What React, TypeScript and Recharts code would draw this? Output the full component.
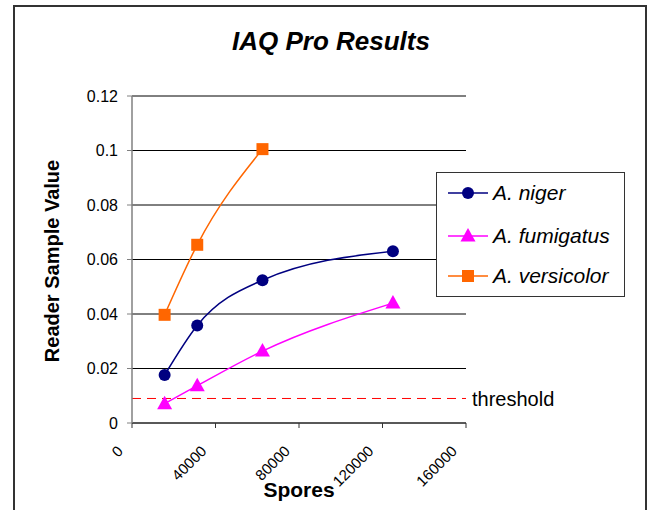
import React from "react";
import {
  LineChart,
  Line,
  XAxis,
  YAxis,
  CartesianGrid,
  ReferenceLine,
  Label,
} from "recharts";

const FONT = '"Liberation Sans", Arial, Helvetica, sans-serif';

// spore counts (doubling dilution series)
const sporeCounts = [15625, 31250, 62500, 125000];
const nigerValues = [0.0176, 0.0358, 0.0524, 0.063];
const fumigatusValues = [0.0071, 0.0137, 0.0264, 0.044];
const versicolorValues = [0.0397, 0.0654, 0.1005];
const thresholdValue = 0.009;

const xTicks = [0, 40000, 80000, 120000, 160000];
const yTicks = [0, 0.02, 0.04, 0.06, 0.08, 0.1, 0.12];

const SERIES = [
  { key: "niger", name: "A. niger", color: "#000080", shape: "circle" },
  { key: "fumigatus", name: "A. fumigatus", color: "#FF00FF", shape: "triangle" },
  { key: "versicolor", name: "A. versicolor", color: "#FF6600", shape: "square" },
];

const rows = sporeCounts.map((x, i) => ({
  x,
  niger: nigerValues[i],
  fumigatus: fumigatusValues[i],
  versicolor: versicolorValues[i] ?? null,
}));

function Marker({ shape, color, cx, cy }: { shape: string; color: string; cx: number; cy: number }) {
  if (shape === "circle") return <circle cx={cx} cy={cy} r={6} fill={color} />;
  if (shape === "triangle")
    return (
      <polygon
        points={`${cx},${cy - 8} ${cx - 7.5},${cy + 5.5} ${cx + 7.5},${cy + 5.5}`}
        fill={color}
      />
    );
  return <rect x={cx - 6} y={cy - 6} width={12} height={12} fill={color} />;
}

const makeDot = (shape: string, color: string) => (props: any) => {
  const { cx, cy, index } = props;
  if (cx == null || cy == null || props.value == null) return <g key={index} />;
  return (
    <g key={index}>
      <Marker shape={shape} color={color} cx={cx} cy={cy} />
    </g>
  );
};

const XTick = (props: any) => {
  const { x, payload } = props;
  return (
    <text
      transform={`translate(${x - 8},452) rotate(-45)`}
      textAnchor="end"
      fontSize={15}
      fontFamily={FONT}
      fill="#000"
    >
      {payload.value}
    </text>
  );
};

function ChartLegend() {
  return (
    <div
      style={{
        position: "absolute",
        left: 436,
        top: 172,
        width: 189,
        height: 125,
        boxSizing: "border-box",
        border: "1px solid #333",
        background: "#fff",
      }}
    >
      {SERIES.map((s, i) => (
        <div
          key={s.key}
          style={{
            position: "absolute",
            left: 0,
            top: [20, 63, 103][i] - 14,
            height: 28,
            display: "flex",
            alignItems: "center",
          }}
        >
          <svg width={56} height={28} style={{ display: "block" }}>
            <line x1={11} x2={51} y1={14} y2={14} stroke={s.color} strokeWidth={1.5} />
            <Marker shape={s.shape} color={s.color} cx={31} cy={14} />
          </svg>
          <span
            style={{
              fontFamily: FONT,
              fontStyle: "italic",
              fontSize: 21,
              color: "#000",
              whiteSpace: "nowrap",
            }}
          >
            {s.name}
          </span>
        </div>
      ))}
    </div>
  );
}

export default function App() {
  return (
    <div
      style={{
        position: "absolute",
        left: 0,
        top: 0,
        width: 652,
        height: 510,
        overflow: "hidden",
        background: "#fff",
      }}
    >
      <div
        style={{
          position: "absolute",
          left: 13,
          top: 5,
          width: 634,
          height: 530,
          boxSizing: "border-box",
          border: "2px solid #333",
        }}
      />
      <div
        style={{
          position: "absolute",
          left: 0,
          top: 26,
          width: 662,
          textAlign: "center",
          fontFamily: FONT,
          fontWeight: "bold",
          fontStyle: "italic",
          fontSize: 26,
          lineHeight: "30px",
          color: "#000",
        }}
      >
        IAQ Pro Results
      </div>
      <div style={{ position: "absolute", left: 0, top: 0 }}>
        <LineChart
          width={652}
          height={510}
          data={rows}
          margin={{ top: 96, right: 186, bottom: 0, left: 0 }}
        >
          <CartesianGrid horizontal vertical={false} stroke="#000" strokeWidth={1} />
          <XAxis
            type="number"
            dataKey="x"
            domain={[0, 160000]}
            ticks={xTicks}
            interval={0}
            height={87}
            axisLine={{ stroke: "#333" }}
            tickLine={{ stroke: "#333" }}
            tickSize={5}
            tick={<XTick />}
          >
            <Label
              content={() => (
                <text
                  x={299}
                  y={497}
                  textAnchor="middle"
                  fontFamily={FONT}
                  fontWeight="bold"
                  fontSize={21}
                  fill="#000"
                >
                  Spores
                </text>
              )}
            />
          </XAxis>
          <YAxis
            type="number"
            domain={[0, 0.12]}
            ticks={yTicks}
            interval={0}
            width={132}
            axisLine={{ stroke: "#808080", strokeWidth: 1.5 }}
            tickLine={{ stroke: "#808080" }}
            tickSize={5}
            tickMargin={9}
            tick={{ fontSize: 16, fontFamily: FONT, fill: "#000" }}
          >
            <Label
              content={() => (
                <text
                  x={0}
                  y={0}
                  transform="translate(59,261) rotate(-90)"
                  textAnchor="middle"
                  fontFamily={FONT}
                  fontWeight="bold"
                  fontSize={20}
                  fill="#000"
                >
                  Reader Sample Value
                </text>
              )}
            />
          </YAxis>
          <ReferenceLine
            y={thresholdValue}
            stroke="#FF0000"
            strokeDasharray="9 6"
            strokeWidth={1}
            label={{
              value: "threshold",
              position: "right",
              offset: 6,
              fontSize: 20,
              fontFamily: FONT,
              fill: "#000",
            }}
          />
          {SERIES.map((s) => (
            <Line
              key={s.key}
              type="monotone"
              dataKey={s.key}
              name={s.name}
              stroke={s.color}
              strokeWidth={1.5}
              dot={makeDot(s.shape, s.color)}
              activeDot={false}
              isAnimationActive={false}
            />
          ))}
        </LineChart>
      </div>
      <ChartLegend />
    </div>
  );
}
